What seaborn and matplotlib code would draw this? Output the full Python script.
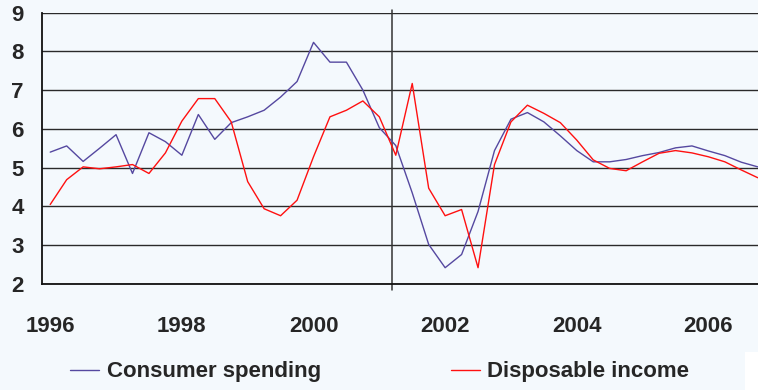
import numpy as np
import pandas as pd
import seaborn as sns
import matplotlib.pyplot as plt
from matplotlib.lines import Line2D
from matplotlib.patches import Rectangle

# Quarterly growth rates, 1996Q1 - 2006Q4 (per cent)
quarters = [f"{y}Q{q}" for y in range(1996, 2007) for q in range(1, 5)]

consumer_spending = [
    5.40, 5.56, 5.16, 5.50, 5.85, 4.85, 5.90, 5.67,
    5.32, 6.37, 5.73, 6.16, 6.31, 6.48, 6.82, 7.22,
    8.23, 7.72, 7.72, 7.00, 6.03, 5.57, 4.35, 3.02,
    2.42, 2.76, 3.87, 5.44, 6.25, 6.42, 6.18, 5.82,
    5.44, 5.15, 5.15, 5.21, 5.31, 5.39, 5.51, 5.56,
    5.43, 5.31, 5.14, 5.02,
]
disposable_income = [
    4.05, 4.69, 5.02, 4.97, 5.02, 5.08, 4.85, 5.38,
    6.20, 6.78, 6.78, 6.18, 4.64, 3.94, 3.76, 4.16,
    5.28, 6.31, 6.48, 6.72, 6.31, 5.32, 7.17, 4.47,
    3.76, 3.92, 2.42, 5.08, 6.18, 6.61, 6.40, 6.16,
    5.71, 5.20, 4.98, 4.92, 5.15, 5.37, 5.44, 5.38,
    5.28, 5.15, 4.94, 4.74,
]
series_names = ["Consumer spending", "Disposable income"]
year_labels = ["1996", "1998", "2000", "2002", "2004", "2006"]
y_ticks = [2, 3, 4, 5, 6, 7, 8, 9]
marker_quarter = 20.8  # vertical reference line (position on the quarter axis)

colors = {"Consumer spending": "#5548A0", "Disposable income": "#FF1010"}
bg = "#F4F9FD"

n = len(quarters)
df = pd.DataFrame({
    "t": np.concatenate([np.arange(n), np.arange(n)]),
    "value": consumer_spending + disposable_income,
    "series": [series_names[0]] * n + [series_names[1]] * n,
})

sns.set_style("white")
plt.rcParams["font.family"] = ["Liberation Sans", "DejaVu Sans"]
plt.rcParams["font.weight"] = "bold"

fig = plt.figure(figsize=(7.58, 3.90), dpi=100, facecolor=bg)
ax = fig.add_axes([42 / 758, 106 / 390, 724 / 758, 271.5 / 390])
ax.set_facecolor(bg)

# horizontal grid
for v in y_ticks:
    ax.axhline(v, color="#2a2a2a", lw=1.0, zorder=1)

sns.lineplot(data=df, x="t", y="value", hue="series", palette=colors,
             hue_order=series_names, linewidth=1.0, legend=False, ax=ax,
             zorder=3)

# vertical separator line
ax.plot([marker_quarter, marker_quarter], [1.84, 9.06], color="#333333",
        lw=1.1, clip_on=False, zorder=2)

ax.set_xlim(-0.5, n - 0.5)
ax.set_ylim(2, 9)

# tick marks every two quarters on category boundaries, labels every two years
ax.set_xticks(np.arange(-0.5, n, 2))
ax.set_xticklabels([])
ax.set_xticks(np.arange(0, n, 8), minor=True)
ax.set_xticklabels(year_labels, minor=True, fontsize=16, fontweight="bold")
ax.tick_params(axis="x", which="major", direction="out", length=6,
               width=1.0, color="#222222")
ax.tick_params(axis="x", which="minor", length=0, pad=23)

ax.set_yticks(y_ticks)
ax.set_yticklabels([str(v) for v in y_ticks], fontsize=16, fontweight="bold")
ax.tick_params(axis="y", direction="out", length=5, width=1.0,
               color="#222222", pad=8)

ax.set_xlabel("")
ax.set_ylabel("")
for side in ["top", "right"]:
    ax.spines[side].set_visible(False)
for side in ["left", "bottom"]:
    ax.spines[side].set_color("#111111")
    ax.spines[side].set_linewidth(1.3)

handles = [Line2D([], [], color=colors[s], lw=1.0) for s in series_names]
fig.legend(handles, series_names, loc="center left",
           bbox_to_anchor=(70 / 758, 18 / 390), ncol=2, frameon=False,
           prop={"size": 16, "weight": "bold"}, handlelength=1.3,
           handletextpad=0.35, columnspacing=5.85, borderpad=0,
           borderaxespad=0)

fig.patches.append(Rectangle((745 / 758, 0), 13 / 758, 38 / 390,
                             transform=fig.transFigure, facecolor="white",
                             edgecolor="none", zorder=0))

fig.savefig("out.png", dpi=100, facecolor=bg)
